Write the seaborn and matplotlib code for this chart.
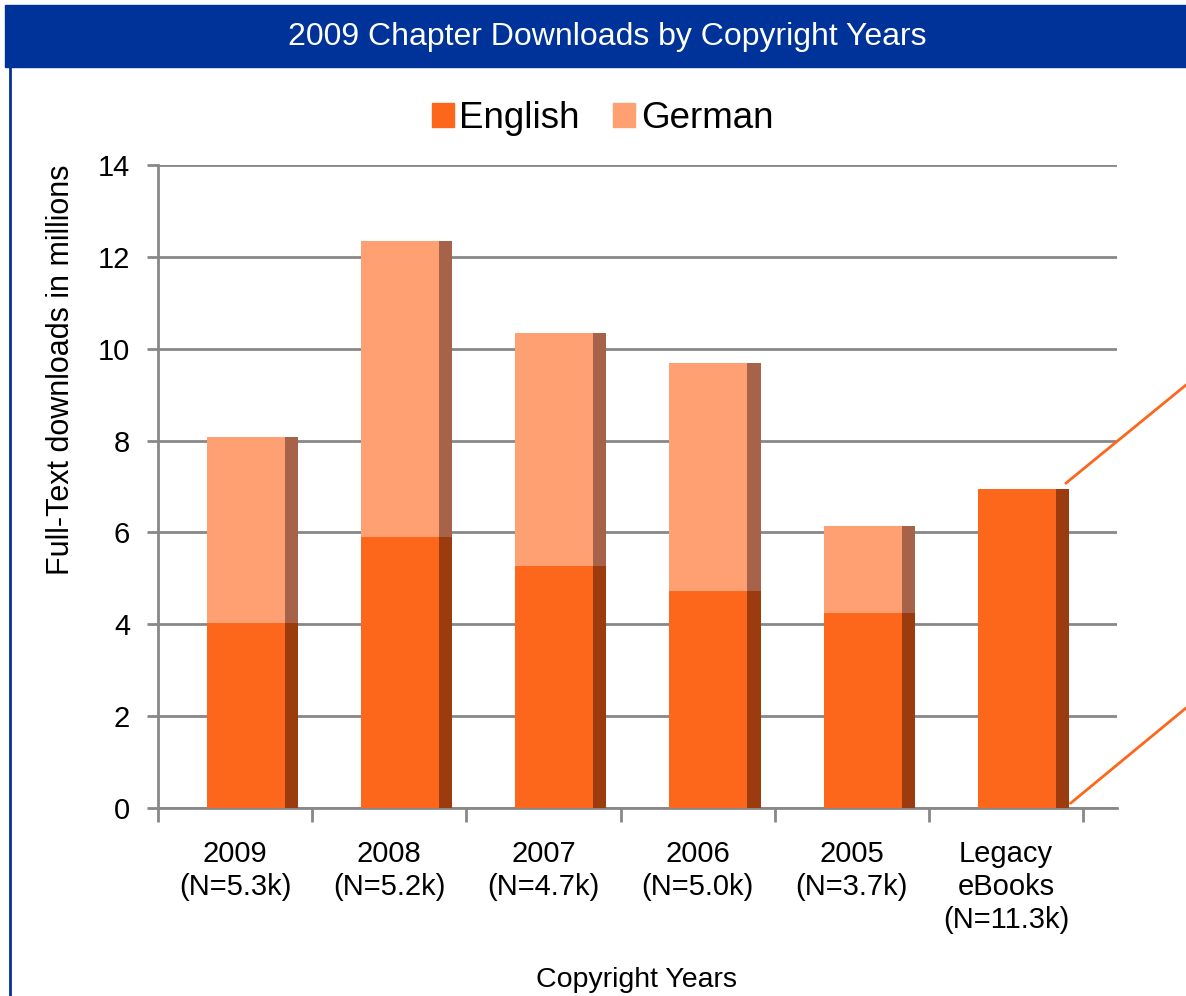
import numpy as np
import pandas as pd
import matplotlib
matplotlib.use("Agg")
import matplotlib.pyplot as plt
from matplotlib.patches import Rectangle, ConnectionPatch
from matplotlib.lines import Line2D
import seaborn as sns

labels = ["2009\n(N=5.3k)", "2008\n(N=5.2k)", "2007\n(N=4.7k)",
          "2006\n(N=5.0k)", "2005\n(N=3.7k)", "Legacy\neBooks\n(N=11.3k)"]
english = [4.03, 5.90, 5.27, 4.72, 4.25, 6.95]
german = [4.05, 6.44, 5.07, 4.97, 1.89, 0.0]

ENG = "#fc671b"
GER = "#ffa073"
ENG_SIDE = "#9c3b0d"
GER_SIDE = "#a6634a"
GRID = "#888888"

df = pd.DataFrame({"label": labels, "English": english, "German": german})
df["Total"] = df["English"] + df["German"]

sns.set_theme(style="white")
plt.rcParams["font.family"] = ["Liberation Sans", "DejaVu Sans"]
plt.rcParams["text.color"] = "black"
plt.rcParams["axes.labelcolor"] = "black"

fig = plt.figure(figsize=(11.86, 9.96), dpi=100)
ax = fig.add_axes([0.1332, 0.1888, 0.8086, 0.6455])

face_w = 0.506
shift = 0.07
side_w = 0.085

sns.barplot(data=df, x="label", y="Total", color=GER, width=face_w,
            saturation=1, ax=ax, zorder=3)
sns.barplot(data=df, x="label", y="English", color=ENG, width=face_w,
            saturation=1, ax=ax, zorder=3)
for p in ax.patches:
    p.set_x(p.get_x() + shift)
    p.set_linewidth(0)

pos = np.arange(len(labels))
side_x = pos + shift + face_w / 2 + side_w / 2
ax.bar(side_x, df["German"], bottom=df["English"], width=side_w,
       color=GER_SIDE, linewidth=0, zorder=3)
ax.bar(side_x, df["English"], width=side_w, color=ENG_SIDE,
       linewidth=0, zorder=3)

ax.set_xlim(-0.5, 5.72)
ax.set_ylim(0, 14)
ax.set_yticks(range(0, 15, 2))
ax.yaxis.grid(True, color=GRID, linewidth=2)
ax.set_axisbelow(True)

for s in ["top", "right"]:
    ax.spines[s].set_visible(False)
for s in ["left", "bottom"]:
    ax.spines[s].set_color(GRID)
    ax.spines[s].set_linewidth(2)

ax.set_xticks(pos)
ax.set_xticklabels(labels, fontsize=21, linespacing=1.24)
ax.set_xticks(np.arange(-0.5, 6, 1), minor=True)
ax.tick_params(axis="x", which="major", length=0, pad=23, labelcolor="black")
ax.tick_params(axis="x", which="minor", bottom=True, length=10, width=2,
               color=GRID)
ax.tick_params(axis="y", left=True, length=8, width=2, color=GRID,
               labelsize=21, pad=12, labelcolor="black")

ax.set_xlabel("Copyright Years", fontsize=20.5)
ax.xaxis.set_label_coords(0.499, -0.248)
ax.set_ylabel("Full-Text downloads in millions", fontsize=22)
ax.yaxis.set_label_coords(-0.086, 0.681)

handles = [Rectangle((0, 0), 1, 1, color=ENG), Rectangle((0, 0), 1, 1, color=GER)]
fig.legend(handles, ["English", "German"], loc="center",
           bbox_to_anchor=(0.508, 0.881), ncol=2, frameon=False,
           fontsize=26.5, handlelength=0.6, handleheight=0.6,
           handletextpad=0.15, columnspacing=0.9, labelcolor="black")

# header bar and left border
fig.patches.append(Rectangle((0.004, 0.9327), 0.996, 0.0623,
                             transform=fig.transFigure, color="#003399",
                             zorder=0))
fig.text(0.512, 0.963, "2009 Chapter Downloads by Copyright Years",
         color="white", fontsize=23, ha="center", va="center")
fig.add_artist(Line2D([0.0088, 0.0088], [0.0, 0.9327],
                      transform=fig.transFigure, color="#003399", linewidth=2))

# connector lines going out from the legacy bar
top_start = (side_x[5] + side_w / 2 - 0.02, english[5] + 0.12)
bot_start = (side_x[5] + side_w / 2 + 0.01, 0.1)
for start, end in [(top_start, (1.0, 1 - 385 / 996)),
                   (bot_start, (1.0, 1 - 708 / 996))]:
    con = ConnectionPatch(xyA=start, coordsA=ax.transData,
                          xyB=end, coordsB=fig.transFigure,
                          color=ENG, linewidth=2)
    fig.add_artist(con)

plt.savefig("out.png", dpi=100)
